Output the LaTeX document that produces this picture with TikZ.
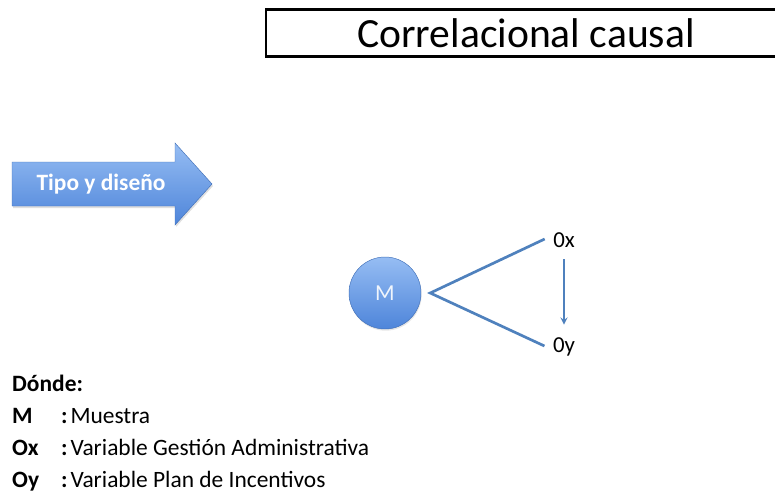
\documentclass[tikz,border=0pt]{standalone}
\usepackage{fontspec}
\setmainfont{Carlito}
\usepackage{tikz}
\usetikzlibrary{arrows,shapes,positioning,shadows,calc}
\definecolor{dgblue}{RGB}{79,129,189}
\definecolor{dglight}{RGB}{150,189,243}
\definecolor{dgdark}{RGB}{78,133,218}
\definecolor{dgtext}{RGB}{240,245,252}
\tikzstyle{titlebox} = [rectangle, draw=black, line width=2.2pt, minimum width=15.6cm, minimum height=1.41cm, font=\fontsize{35.5}{40}\selectfont]
\tikzstyle{bigarrow} = [top color=dglight, bottom color=dgdark, draw=dgdark!85!black, drop shadow={opacity=0.25, shadow xshift=0.03cm, shadow yshift=-0.06cm}]
\tikzstyle{arrowtext} = [text=white, font=\bfseries\fontsize{20}{22}\selectfont]
\tikzstyle{sample} = [circle, minimum size=2.16cm, top color=dglight, bottom color=dgdark, draw=dgdark!85!black, text=dgtext, font=\fontsize{19.5}{22}\selectfont, drop shadow={opacity=0.2, shadow xshift=0.02cm, shadow yshift=-0.05cm}]
\tikzstyle{obs} = [inner sep=2pt, font=\fontsize{19.5}{22}\selectfont]
\tikzstyle{link} = [line width=2.3pt, color=dgblue]
\tikzstyle{arrow} = [line width=1.7pt,->,>=stealth,color=dgblue]
\tikzstyle{legend} = [anchor=base west, inner sep=0pt, font=\fontsize{20}{24}\selectfont]

\begin{document}
\begin{tikzpicture}[x=0.03cm, y=-0.03cm]
\clip (0,0) rectangle (775,493);

% Title box, cut at the right side
\node (title) [titlebox] at (526,33) {Correlacional causal};

% Big arrow
\path[bigarrow] (12,162) -- (175,162) -- (175,143) -- (212,184) -- (175,225) -- (175,206) -- (12,206) -- cycle;
\node (tipo) [arrowtext] at (101,184) {Tipo y diseño};

% Sample and observations
\node (m) [sample] at (385,293) {M};
\node (ox) [obs] at (564,240) {0x};
\node (oy) [obs] at (564,347) {0y};
\coordinate (apex) at ($(m.east)+(9,0)$);

% Lines
\draw[link] ($(ox.west)+(-6,-1)$) -- (apex) -- ($(oy.west)+(-6,-1)$);
\draw[arrow, shorten <=8pt, shorten >=9pt] (ox.south) -- (oy.north);

% Legend
\node (where) [legend] at (12,391) {\textbf{Dónde:}};
\node (km) [legend] at (12,423) {\textbf{M}};
\node (vm) [legend] at (61,423) {\textbf{:}\hspace{0.12em}Muestra};
\node (kx) [legend] at (12,455.5) {\textbf{Ox}};
\node (vx) [legend] at (61,455.5) {\textbf{:}\hspace{0.12em}Variable Gestión Administrativa};
\node (ky) [legend] at (12,487.5) {\textbf{Oy}};
\node (vy) [legend] at (61,487.5) {\textbf{:}\hspace{0.12em}Variable Plan de Incentivos};
\end{tikzpicture}
\end{document}
